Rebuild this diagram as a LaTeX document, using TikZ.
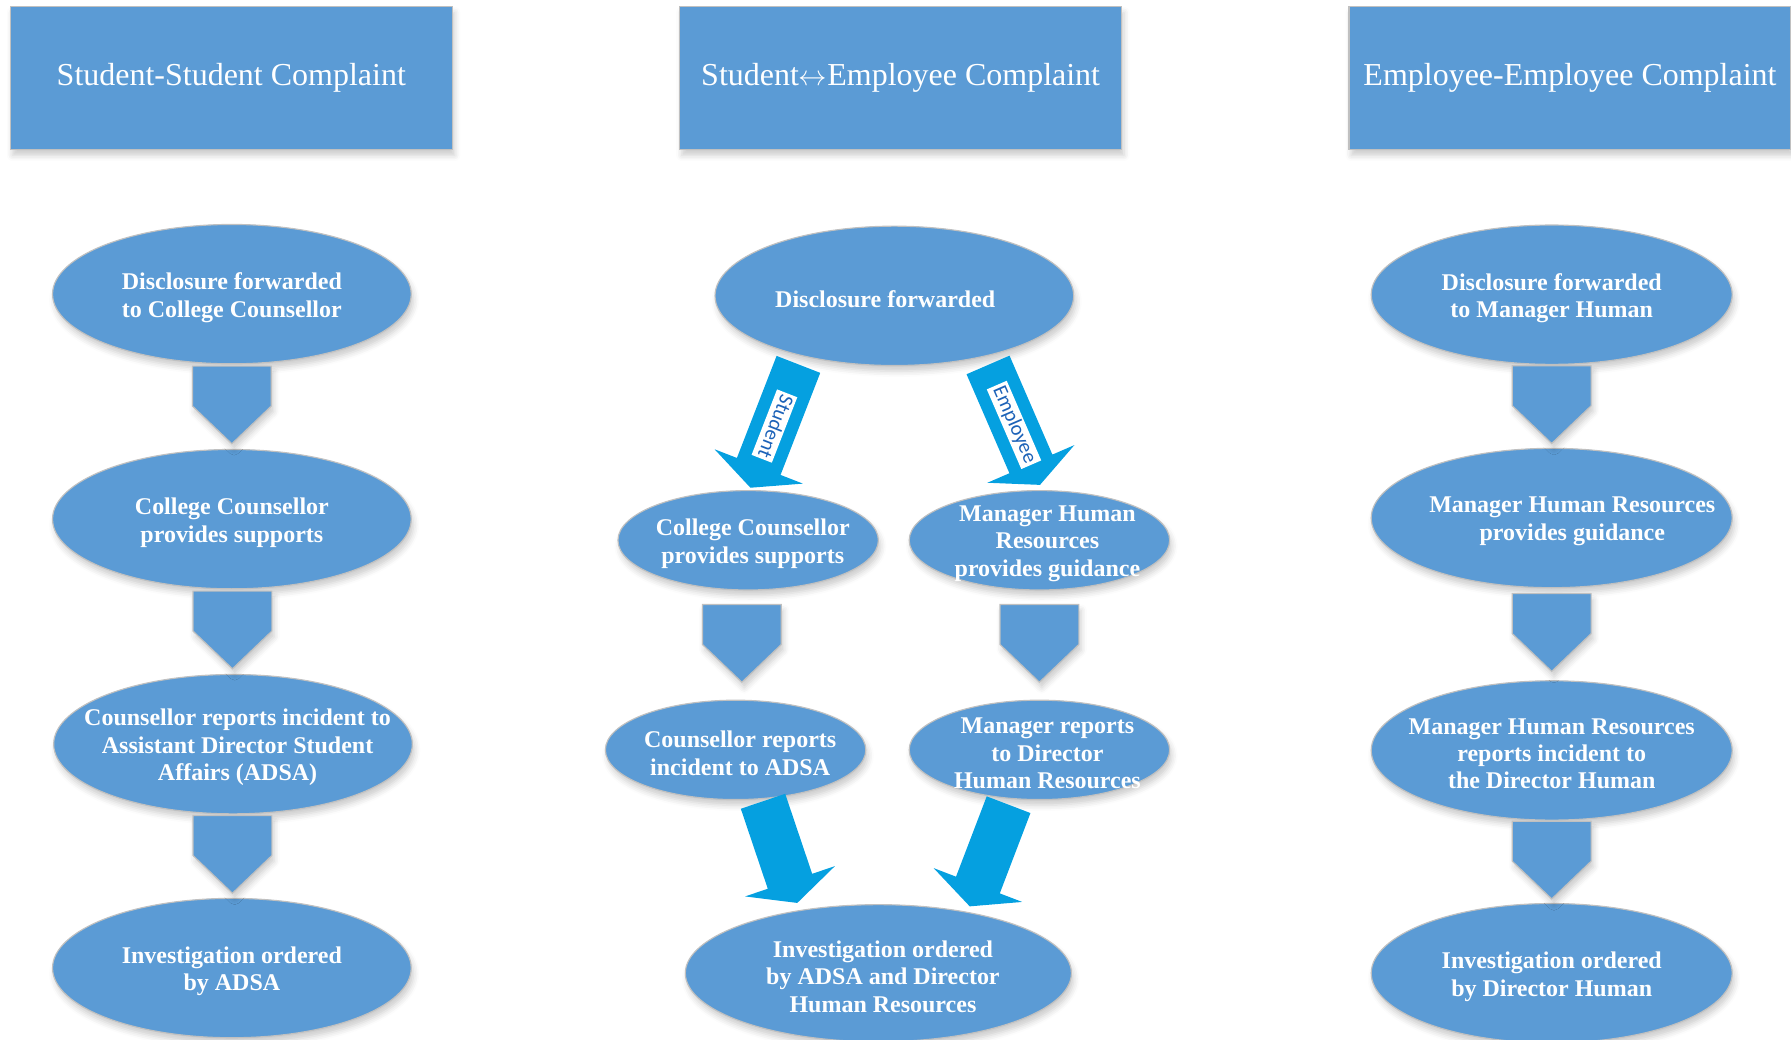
\documentclass[tikz,border=0pt]{standalone}
\usepackage{fontspec}
\setmainfont{Liberation Serif}
\newfontfamily\tagfont{Carlito}
\usetikzlibrary{shapes.geometric,calc,shadows.blur}

\definecolor{boxblue}{RGB}{91,155,213}
\definecolor{flowblue}{RGB}{5,160,224}
\definecolor{tagblue}{RGB}{28,98,184}
\definecolor{rimgrey}{RGB}{192,192,192}

\tikzset{
  soft/.style={blur shadow={shadow xshift=2pt, shadow yshift=-5pt, shadow blur radius=5pt, shadow opacity=20}},
  titlebox/.style={rectangle, fill=boxblue, draw=rimgrey, line width=1pt,
    minimum width=387pt, minimum height=125pt, soft,
    text=white, font=\fontsize{28}{32}\selectfont},
  oval/.style={ellipse, fill=boxblue, draw=rimgrey, line width=1pt,
    minimum width=314pt, minimum height=122pt, soft},
  small oval/.style={oval, minimum width=228pt, minimum height=87pt},
  wide oval/.style={oval, minimum width=338pt, minimum height=120pt},
  ovaltext/.style={align=center, text=white, yshift=-3pt, font=\bfseries\fontsize{21}{24}\selectfont},
  chevron/.style={fill=boxblue, draw=rimgrey, line width=1pt, soft},
  tagbox/.style={fill=white, text=tagblue, font=\tagfont\fontsize{18}{18}\selectfont,
    inner xsep=2pt, inner ysep=1.5pt, text height=12.5pt, text depth=3.5pt}
}

% ellipse with its caption on top
\newcommand{\stage}[5][]{%
  \node[#2] (#3) at (#4) {};
  \node[ovaltext,#1] (#3t) at (#3.center) {#5};}

% block arrow pointing down from one stage to the next
\newcommand{\chev}[2]{%
  \coordinate (mid) at ($(#1.south)!.5!(#2.north)$);
  \filldraw[chevron] ($(mid)+(-34.5,-35.5)$) -- ++(69,0) -- ++(0,35)
    -- ++(-34.5,33) -- ++(-34.5,-33) -- cycle;}

% broad slanted arrow, #1 = tail, #2 = tip
\newcommand{\fatarrow}[2]{%
  \coordinate (back) at ($(#2)!20pt!(#1)$);
  \fill[flowblue] ($(#1)!20.5pt!90:(#2)$) -- ($(back)!20.5pt!-90:(#1)$)
    -- ($(back)!41.5pt!-90:(#1)$) -- (#2) -- ($(back)!41.5pt!90:(#1)$)
    -- ($(back)!20.5pt!90:(#1)$) -- ($(#1)!20.5pt!-90:(#2)$) -- cycle;}

\begin{document}
\begin{tikzpicture}[x=1pt,y=-1pt]
\useasboundingbox (0,0) rectangle (1568,910);

% headings
\node[titlebox] (hss) at (202.5,68.5) {Student-Student Complaint};
\node[titlebox] (hse) at (788.5,68.5) {Student{$\leftrightarrow$}Employee Complaint};
\node[titlebox] (hee) at (1374.5,68.5) {Employee-Employee Complaint};

% student - student
\stage{oval}{ss1}{203,257.5}{Disclosure forwarded\\to College Counsellor}
\stage{oval}{ss2}{203,454.5}{College Counsellor\\provides supports}
\stage[xshift=4pt]{oval}{ss3}{204,651.5}{Counsellor reports incident to\\Assistant Director Student\\Affairs (ADSA)}
\stage{oval}{ss4}{203,847.5}{Investigation ordered\\by ADSA}
\chev{ss1}{ss2}
\chev{ss2}{ss3}
\chev{ss3}{ss4}

% student - employee
\stage[xshift=-8pt]{oval}{disc}{783,259}{Disclosure forwarded}
\stage[xshift=4pt]{small oval}{ccs}{655,473}{College Counsellor\\provides supports}
\stage[xshift=7pt]{small oval}{mhr}{910,473}{Manager Human\\Resources\\provides guidance}
\stage[xshift=4pt]{small oval}{crs}{644,656.5}{Counsellor reports\\incident to ADSA}
\stage[xshift=7pt]{small oval}{mrd}{910,656.5}{Manager reports\\to Director\\Human Resources}
\stage[xshift=4pt]{wide oval}{inv}{769,852}{Investigation ordered\\by ADSA and Director\\Human Resources}
\chev{ccs}{crs}
\chev{mhr}{mrd}

\coordinate (s1) at ($(disc.center)+(-84,60)$);
\coordinate (t1) at ($(ccs.north)+(2,-2)$);
\coordinate (s2) at ($(disc.center)+(82,60.5)$);
\coordinate (t2) at ($(mhr.north)+(0.5,-4.5)$);
\coordinate (s3) at ($(crs.south)+(24,1)$);
\coordinate (t3) at ($(inv.north)+(-71,-1)$);
\coordinate (s4) at ($(mrd.south)+(-27,4)$);
\coordinate (t4) at ($(inv.north)+(80,2)$);
\fatarrow{s1}{t1}
\fatarrow{s2}{t2}
\fatarrow{s3}{t3}
\fatarrow{s4}{t4}
\path (s1) -- (t1) node[tagbox, pos=.5, sloped, allow upside down] (stag) {Student};
\path (s2) -- (t2) node[tagbox, pos=.5, sloped, allow upside down] (etag) {Employee};

% employee - employee
\stage{oval, minimum width=316pt}{ee1}{1358.5,258}{Disclosure forwarded\\to Manager Human}
\stage[xshift=18pt]{oval, minimum width=316pt}{ee2}{1358.5,453.5}{Manager Human Resources\\provides guidance}
\stage{oval, minimum width=316pt}{ee3}{1358.5,657}{Manager Human Resources\\reports incident to\\the Director Human}
\stage{oval, minimum width=316pt}{ee4}{1358.5,852}{Investigation ordered\\by Director Human}
\chev{ee1}{ee2}
\chev{ee2}{ee3}
\chev{ee3}{ee4}

\end{tikzpicture}
\end{document}
